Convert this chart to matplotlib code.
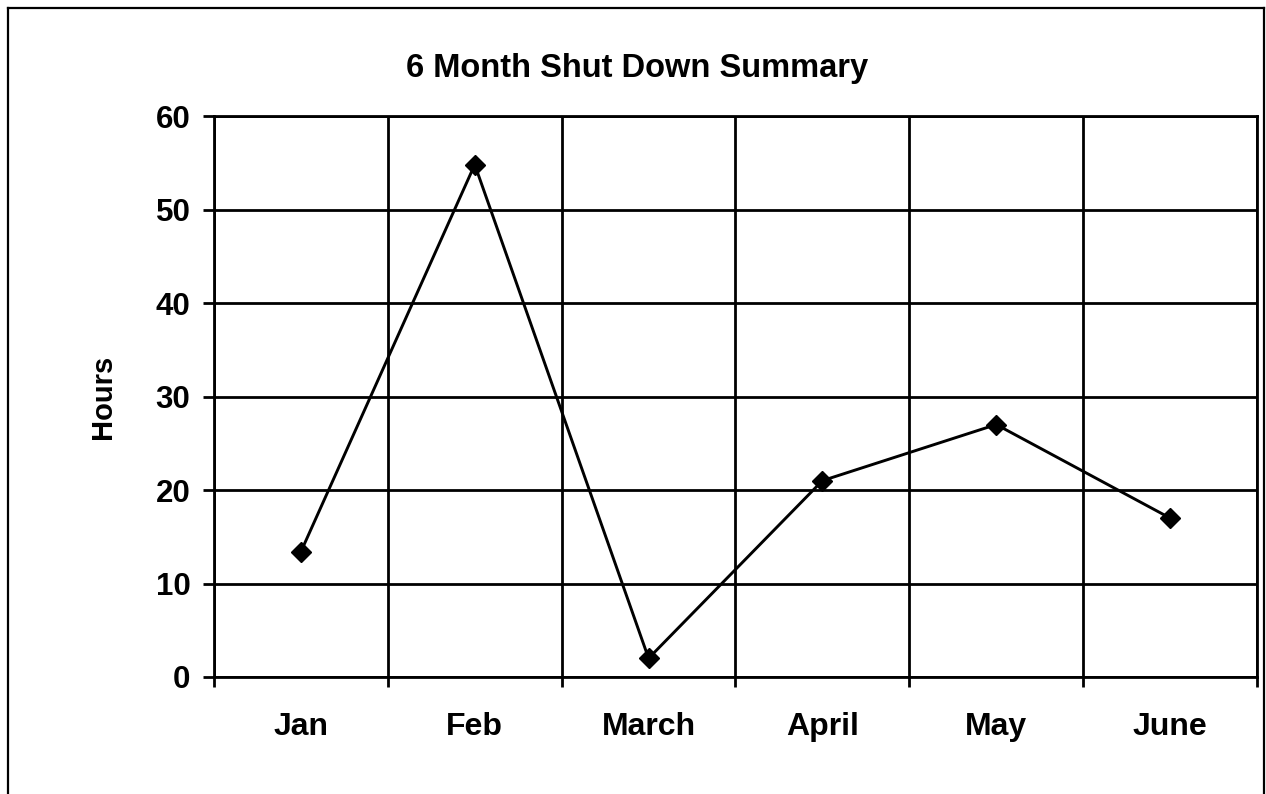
import matplotlib
matplotlib.use("Agg")
import matplotlib.pyplot as plt
from matplotlib.lines import Line2D

months = ["Jan", "Feb", "March", "April", "May", "June"]
hours = [13.4, 54.8, 2.0, 21.0, 27.0, 17.0]
y_ticks = [0, 10, 20, 30, 40, 50, 60]

plt.rcParams["font.family"] = ["Liberation Sans", "DejaVu Sans"]
plt.rcParams["font.weight"] = "bold"

fig = plt.figure(figsize=(12.66, 7.94), dpi=100)
ax = fig.add_axes([214 / 1266, 1 - 677 / 794, (1257 - 214) / 1266, (677 - 116) / 794])

x = list(range(len(months)))
ax.plot(x, hours, color="black", linewidth=2.1, marker="D", markersize=10.5,
        markerfacecolor="black", markeredgecolor="black", zorder=3)

ax.set_xlim(-0.5, len(months) - 0.5)
ax.set_ylim(0, 60)
ax.set_yticks(y_ticks)
ax.set_xticks(x)
ax.set_xticklabels(months)
ax.set_xticks([i - 0.5 for i in range(len(months) + 1)], minor=True)

# gridlines: horizontal at y ticks, vertical at category boundaries
ax.grid(True, axis="y", which="major", color="black", linewidth=2.0)
ax.grid(True, axis="x", which="minor", color="black", linewidth=2.0)
ax.set_axisbelow(True)

ax.tick_params(axis="x", which="major", length=0, pad=25, labelsize=23)
ax.tick_params(axis="x", which="minor", length=7, width=2.0, direction="out")
ax.tick_params(axis="y", which="major", length=8, width=2.0, direction="out",
               pad=9, labelsize=22.5)
for lbl in ax.get_xticklabels() + ax.get_yticklabels():
    lbl.set_fontweight("bold")

for sp in ax.spines.values():
    sp.set_color("black")
    sp.set_linewidth(2.0)

ax.set_ylabel("Hours", fontsize=21, fontweight="bold")
ax.yaxis.set_label_coords((117 - 214) / 1043, 0.5)
fig.text(637 / 1266, 1 - 69 / 794, "6 Month Shut Down Summary",
         ha="center", va="center", fontsize=23.5, fontweight="bold")

# outer frame (left, top, right; bottom runs off the page)
l, r, t = 8 / 1266, 1264 / 1266, 1 - 8 / 794
for xs, ys in [([l, l], [0, t]), ([l, r], [t, t]), ([r, r], [t, 0])]:
    fig.add_artist(Line2D(xs, ys, color="black", linewidth=1.6,
                          transform=fig.transFigure))

fig.savefig("out.png", dpi=100)
